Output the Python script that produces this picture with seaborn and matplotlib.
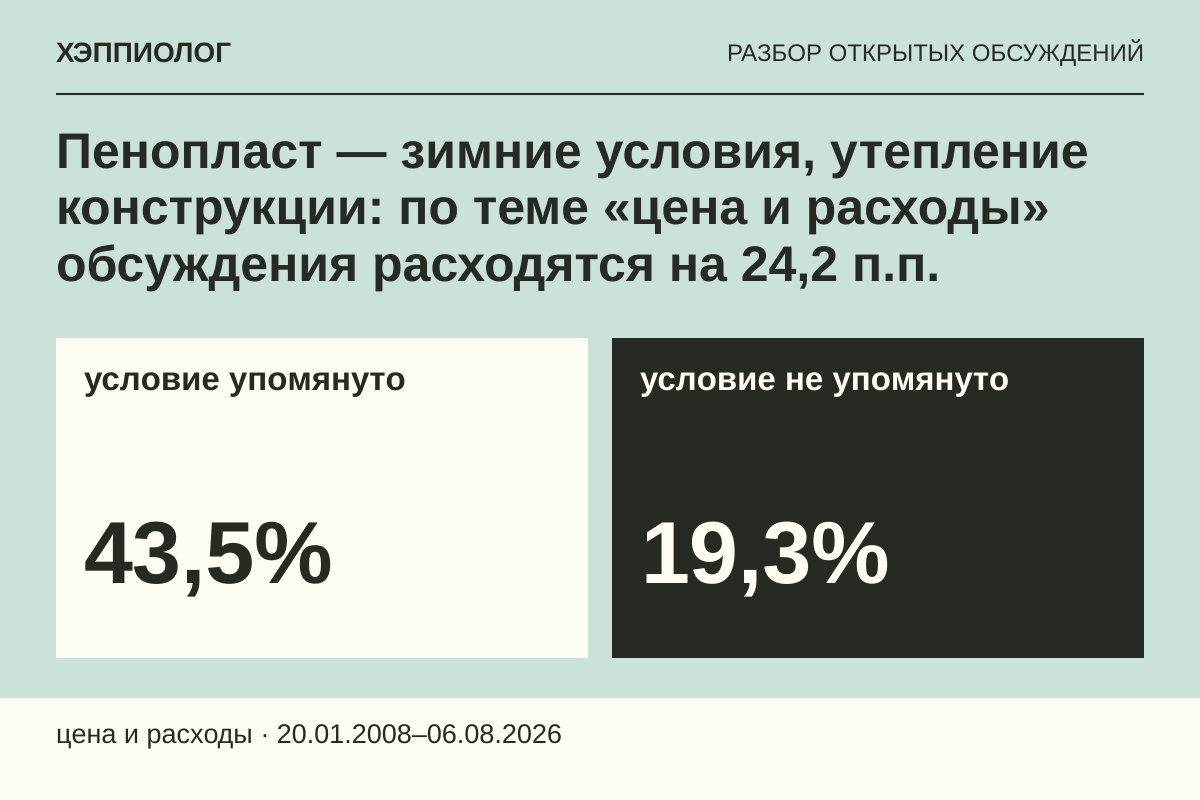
import matplotlib
matplotlib.use("Agg")
import matplotlib.pyplot as plt
from matplotlib.patches import Rectangle
import seaborn as sns

BRAND = "ХЭППИОЛОГ"
SECTION = "РАЗБОР ОТКРЫТЫХ ОБСУЖДЕНИЙ"
TITLE_LINES = ["Пенопласт — зимние условия, утепление",
               "конструкции: по теме «цена и расходы»",
               "обсуждения расходятся на 24,2 п.п."]
CARD_LABELS = ["условие упомянуто", "условие не упомянуто"]
CARD_VALUES = [43.5, 19.3]
FOOTER = "цена и расходы · 20.01.2008–06.08.2026"

BG = "#cbe2d8"
CREAM = "#fffcf4"
DARK = "#262a22"

sns.set_theme(style="white")
plt.rcParams["font.family"] = ["Liberation Sans", "DejaVu Sans"]
plt.rcParams["text.hinting"] = "no_hinting"
plt.rcParams["text.hinting_factor"] = 1

fig = plt.figure(figsize=(12, 8), dpi=100, facecolor=BG)
ax = fig.add_axes([0, 0, 1, 1])
ax.set_xlim(0, 1200)
ax.set_ylim(800, 0)
ax.axis("off")

ax.add_patch(Rectangle((0, 698), 1200, 102, fc=CREAM, ec="none"))
ax.plot([56, 1144], [94, 94], color=DARK, lw=1.5, solid_capstyle="butt")

ax.text(56, 61.5, BRAND, fontsize=19.85, fontweight="bold", color=DARK, va="baseline", ha="left")
ax.text(1144, 61, SECTION, fontsize=17.3, color=DARK, va="baseline", ha="right")

for line, y in zip(TITLE_LINES, [168, 225, 282]):
    ax.text(56, y, line, fontsize=36, fontweight="bold", color=DARK, va="baseline", ha="left")

for x, bg, fg, label, value in zip([56, 612], [CREAM, DARK], [DARK, CREAM], CARD_LABELS, CARD_VALUES):
    ax.add_patch(Rectangle((x, 338), 532, 320, fc=bg, ec="none"))
    ax.text(x + 28, 390, label, fontsize=23.7, fontweight="bold", color=fg, va="baseline", ha="left")
    ax.text(x + 28, 583, f"{value:.1f}%".replace(".", ","), fontsize=63, fontweight="bold",
            color=fg, va="baseline", ha="left")

ax.text(56, 743, FOOTER, fontsize=19.4, color=DARK, va="baseline", ha="left")

fig.savefig("out.png", dpi=100, facecolor=BG)
